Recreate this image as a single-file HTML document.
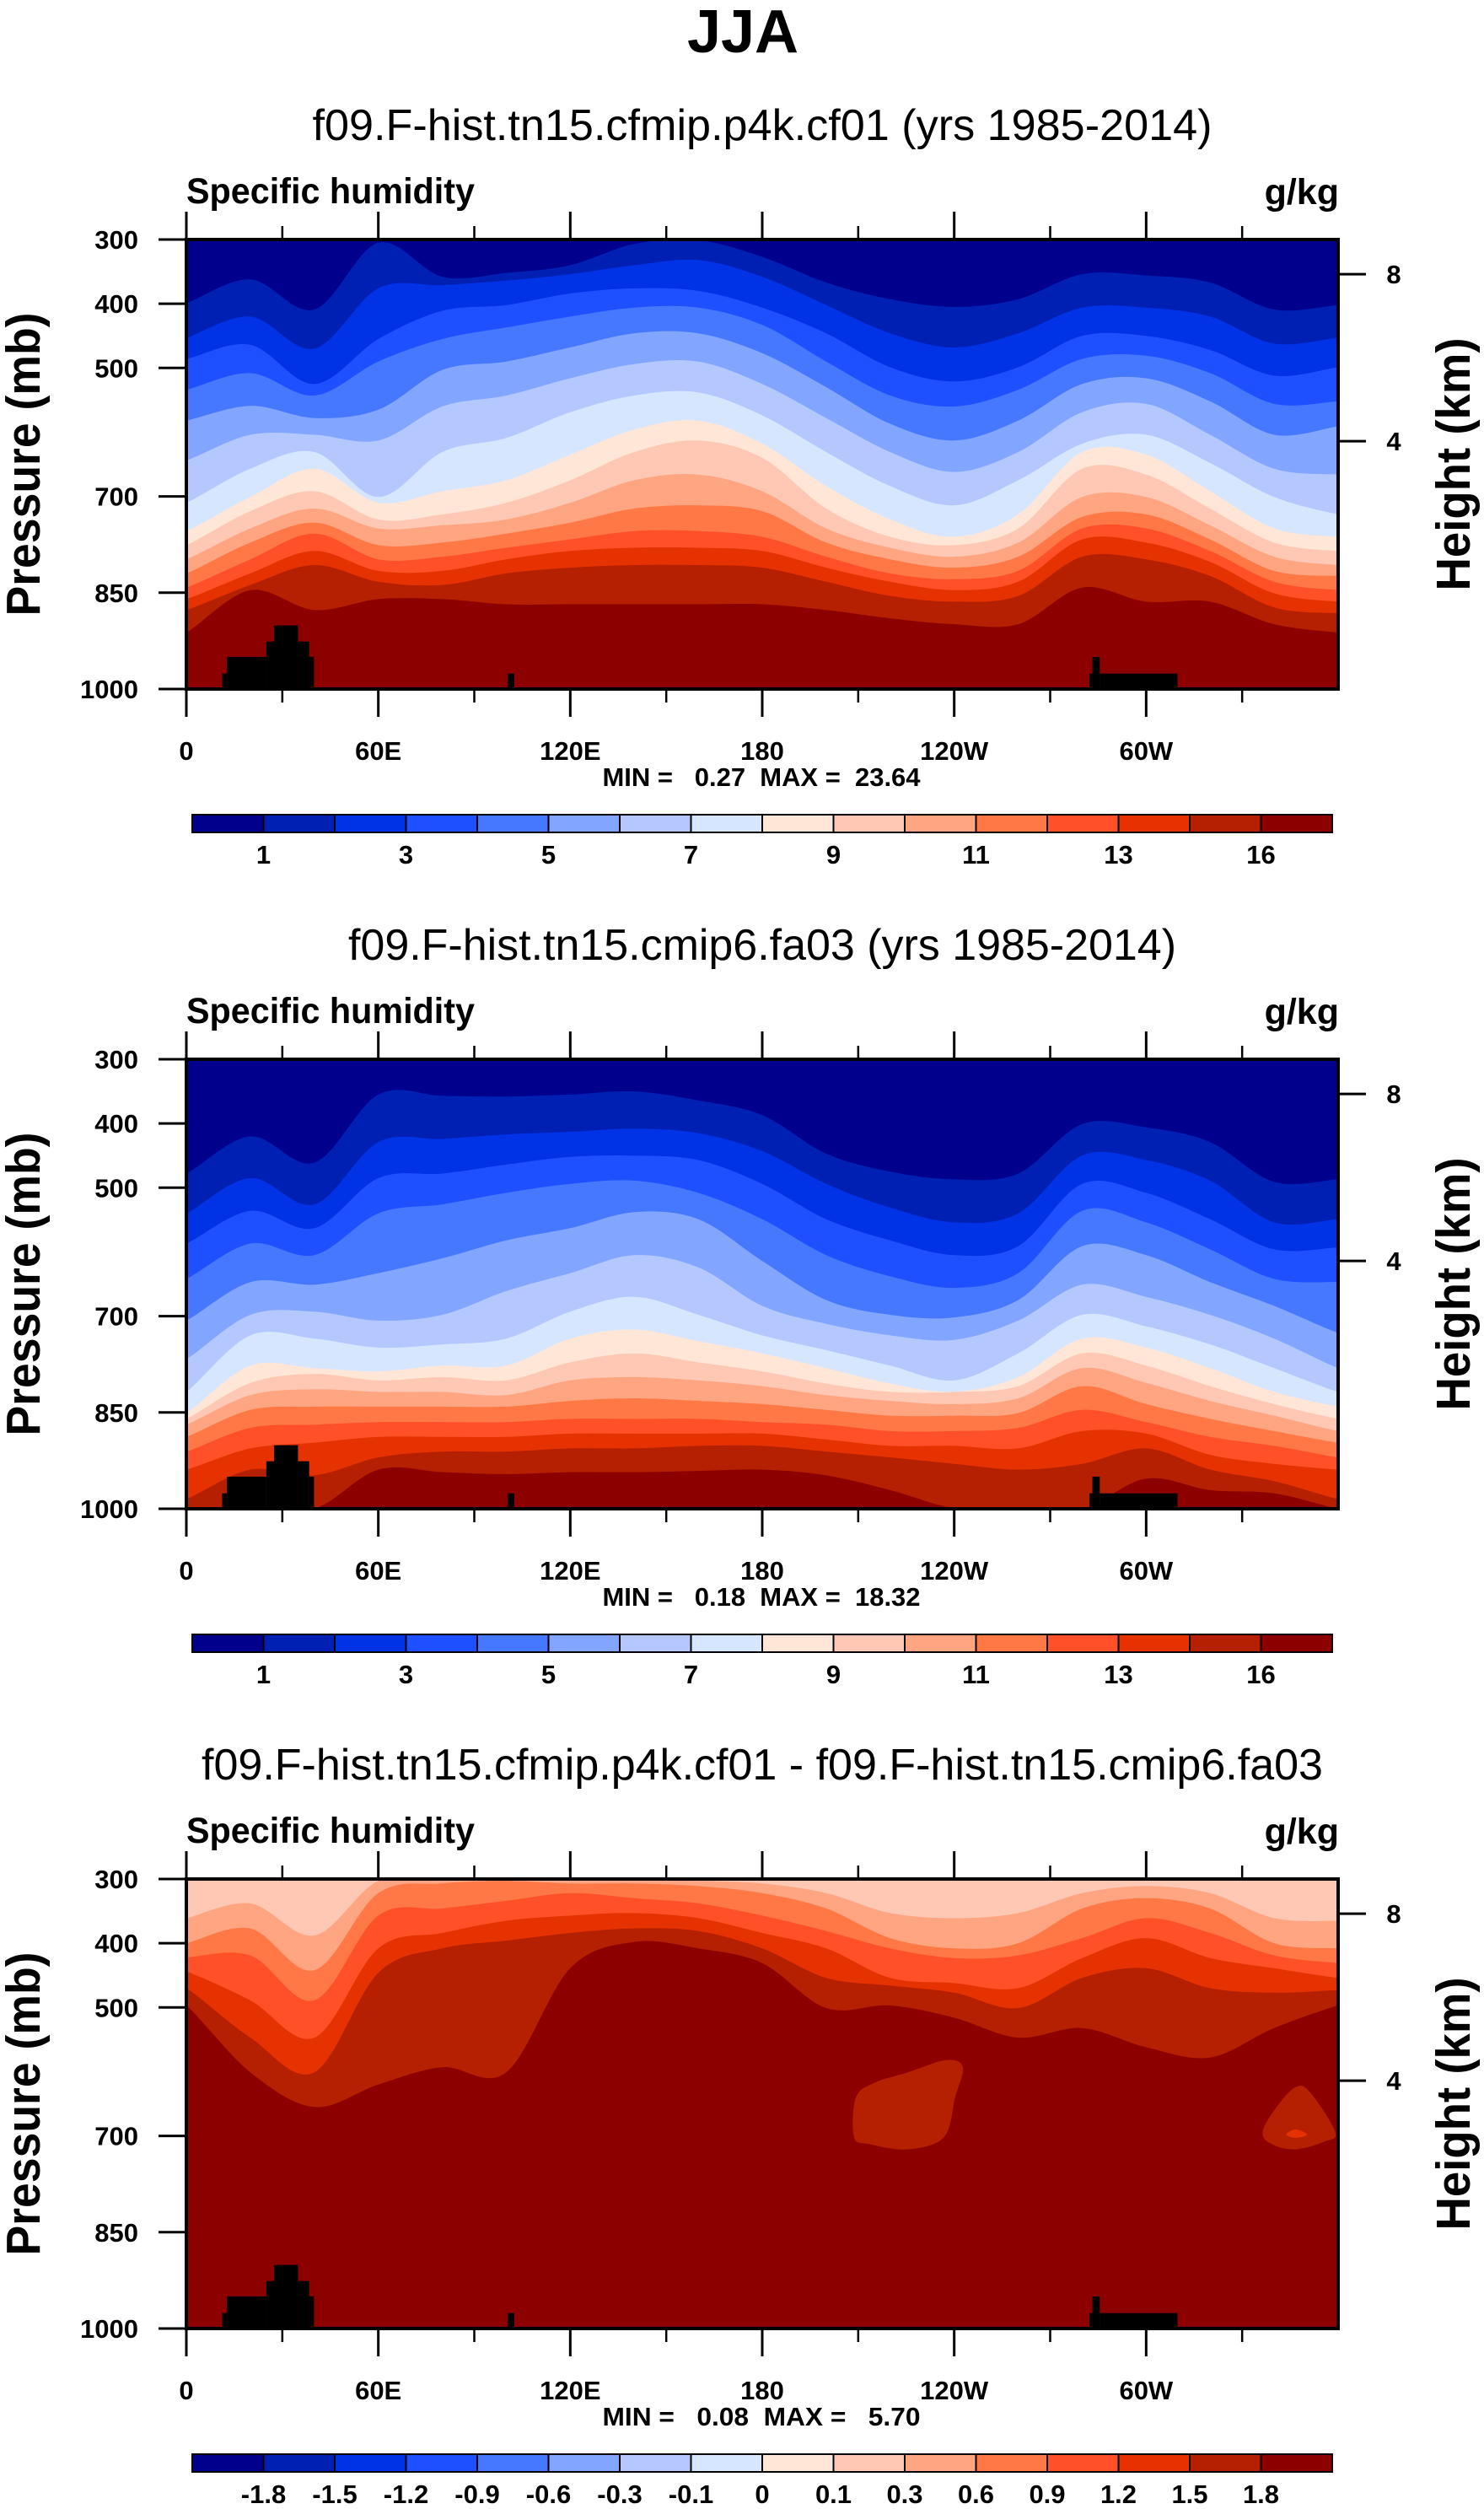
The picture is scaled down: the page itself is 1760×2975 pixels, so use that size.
<!DOCTYPE html>
<html><head><meta charset="utf-8"><title>JJA Specific humidity</title>
<style>
html,body{margin:0;padding:0;background:#fff;}
svg{display:block;font-family:"Liberation Sans",Arial,sans-serif;}
text{fill:#000;}
.pre{white-space:pre;}
</style></head>
<body>
<svg id="fig" xmlns="http://www.w3.org/2000/svg" width="1760" height="2975" viewBox="0 0 1760 2975">
<rect x="0" y="0" width="1760" height="2975" fill="#fff"/>
<text x="881" y="62" text-anchor="middle" font-size="72" font-weight="bold">JJA</text>
</svg>
<script>
// ---------- data ----------
const lons = [0,20,40,60,80,100,120,140,160,180,200,220,240,260,280,300,320,340,360];
const levels12 = [1,2,3,4,5,6,7,8,9,10,11,12,13,14,16];
const cbarLabels12 = ['1','','3','','5','','7','','9','','11','','13','','16'];
const cbarLabels3 = ['-1.8','-1.5','-1.2','-0.9','-0.6','-0.3','-0.1','0','0.1','0.3','0.6','0.9','1.2','1.5','1.8'];
const xTickLons = [0,60,120,180,240,300];
const xTickLabels = ['0','60E','120E','180','120W','60W'];
const xMinorLons = [30,90,150,210,270,330];
const pTicks = [300,400,500,700,850,1000];
const heightKm = [8,4];
const heightP = [354,614];
const palette = ['#00008c','#0020b4','#0032e6','#1e50ff','#4678ff','#82a5ff','#b4c8ff','#d7e6ff','#ffe6d7','#ffc8b4','#ffa582','#ff7846','#ff5028','#e63200','#b42000','#8c0000'];

// Panel 1: pressure (mb) where q crosses each contour level, at each lon
const p1Bounds = [
[399,362,409,305,358,352,340,307,301,327,367,393,405,393,354,356,367,409,402],
[453,420,470,376,371,364,354,340,332,358,402,446,468,446,406,406,420,462,453],
[486,464,525,455,411,402,384,376,380,406,446,499,521,499,450,450,472,512,499],
[534,508,543,490,455,437,420,406,406,433,490,543,560,534,486,481,508,556,552],
[582,559,578,565,503,490,468,446,446,477,530,587,613,582,525,516,552,604,591],
[644,604,604,613,560,543,516,494,490,525,578,631,662,631,569,556,604,657,666],
[710,657,631,701,631,609,569,543,538,574,631,684,714,675,618,604,648,701,728],
[754,701,657,710,692,675,635,596,582,618,684,736,763,728,631,635,692,750,763],
[776,723,692,736,728,710,675,631,613,640,719,763,776,750,657,666,719,772,785],
[798,750,719,750,745,736,710,675,666,692,750,780,794,772,701,701,745,794,807],
[820,772,741,776,772,758,741,719,714,723,772,798,811,794,732,728,767,816,824],
[842,798,758,798,794,780,767,754,754,763,794,820,829,816,750,750,785,833,846],
[860,820,785,816,816,798,785,780,780,785,811,833,846,833,767,772,802,851,864],
[877,838,807,833,838,820,811,807,807,811,833,855,864,855,794,798,824,873,882],
[912,846,877,860,860,868,868,868,868,868,877,890,899,899,842,864,864,899,912]
];
// Panel 2
const p2Bounds = [
[478,420,461,355,357,358,355,350,364,387,447,475,487,478,401,406,429,491,487],
[540,485,526,429,424,417,413,408,415,443,494,531,554,540,450,457,489,554,549],
[587,536,563,485,478,464,452,450,457,494,549,582,605,591,494,508,549,596,593],
[642,587,605,540,526,508,494,489,508,549,605,638,656,633,536,554,596,642,647],
[707,647,651,633,610,582,563,538,549,614,675,698,702,675,591,605,647,684,726],
[767,698,693,707,698,661,633,605,624,684,712,730,737,707,651,670,698,735,781],
[818,730,735,749,744,735,693,670,698,730,753,777,800,758,698,716,744,781,818],
[851,777,781,786,777,777,735,721,739,758,781,805,818,795,735,749,781,818,841],
[860,804,790,800,795,800,772,758,772,786,805,818,818,809,758,777,809,837,860],
[869,823,814,818,818,823,800,795,800,809,823,832,837,828,781,804,832,855,879],
[888,846,841,841,841,841,832,828,832,837,846,855,855,851,809,837,860,879,897],
[911,874,869,865,865,865,860,860,860,865,869,879,879,874,846,865,888,902,920],
[939,906,897,888,888,888,883,883,883,883,892,902,902,906,879,883,916,930,939],
[985,939,948,920,911,911,906,906,902,902,911,920,930,939,930,906,939,957,985],
[1001,999,1001,939,943,946,943,943,941,939,948,971,999,1001,1001,953,971,976,1001]
];
// Panel 3 (difference): base colour index 9, boundaries fill indices 10..15
const p3Bounds = [
[361,338,388,303,303,303,303,303,303,307,322,353,361,353,322,311,322,361,365],
[400,377,442,322,307,303,307,307,311,322,346,392,408,400,346,330,346,400,408],
[422,419,489,357,346,334,322,330,338,357,381,408,423,419,392,361,384,419,431],
[444,489,547,408,384,365,357,353,361,384,408,454,462,470,423,392,423,439,454],
[470,547,601,446,408,396,384,377,381,408,454,466,477,501,454,439,470,477,473],
[497,601,655,620,593,601,439,398,408,431,501,497,516,547,532,562,578,532,497]
];
const blobALon = [208.7,209.3,215.2,225.5,237.4,242.7,240.3,236.8,225.5,213.7];
const blobAP   = [702,640,617,601,582,593,640,702,721,713];
const blobBLon = [336.4,340.8,346.7,351.2,359.1,355.6,346.7,339.3];
const blobBP   = [694,655,624,632,694,709,721,713];
const blobCLon = [343.8,346.7,350.3,346.7];
const blobCP   = [698,690,698,703];
// Topography (surface pressure steps)
const topoLon0 = [11.2,12.7,25.0,27.4,34.9,38.4,100.5,282.3,283.2,285.5];
const topoLon1 = [12.7,25.0,27.4,34.9,38.4,39.9,102.5,283.2,285.5,309.8];
const topoP    = [976,950,926,901,926,950,976,976,950,976];

// ---------- layout ----------
const NS='http://www.w3.org/2000/svg';
const svg=document.getElementById('fig');
const X0=221, X1=1587, PH=533;
function el(tag,attrs,parent){const e=document.createElementNS(NS,tag);for(const k in attrs)e.setAttribute(k,attrs[k]);(parent||svg).appendChild(e);return e;}
function txt(s,attrs,parent){const e=el('text',attrs,parent);e.textContent=s;return e;}

function smoothPath(pts,closed){
  const n=pts.length;let d='M'+pts[0][0].toFixed(1)+','+pts[0][1].toFixed(1);
  const get=i=>closed?pts[(i+n)%n]:pts[Math.max(0,Math.min(n-1,i))];
  const segs=closed?n:n-1;
  for(let i=0;i<segs;i++){
    const p0=get(i-1),p1=get(i),p2=get(i+1),p3=get(i+2);
    const c1=[p1[0]+(p2[0]-p0[0])/6,p1[1]+(p2[1]-p0[1])/6];
    const c2=[p2[0]-(p3[0]-p1[0])/6,p2[1]-(p3[1]-p1[1])/6];
    d+='C'+c1[0].toFixed(1)+','+c1[1].toFixed(1)+' '+c2[0].toFixed(1)+','+c2[1].toFixed(1)+' '+p2[0].toFixed(1)+','+p2[1].toFixed(1);
  }
  return d+(closed?'Z':'');
}

function drawPanel(idx,top,cfg){
  const xs=l=>X0+(X1-X0)*l/360;
  const ys=p=>top+PH*(Math.min(1000,Math.max(300,p))-300)/700;
  const g=el('g',{});
  
  
  const cid='clip'+idx;
  const cp=el('clipPath',{id:cid},g);
  el('rect',{x:X0,y:top,width:X1-X0,height:PH},cp);
  const plot=el('g',{'clip-path':'url(#'+cid+')'},g);
  
  
  const base=el('rect',{x:X0,y:top,width:X1-X0,height:PH,fill:palette[cfg.baseIdx]},plot);
  
  
  cfg.bounds.forEach((arr,k)=>{
    const pts=lons.map((l,i)=>[xs(l),ys(arr[i])]);
    pts.unshift([xs(0)-20,ys(arr[0])]);pts.push([xs(360)+20,ys(arr[arr.length-1])]);
    let d=smoothPath(pts,false)+'L'+(X1+20)+','+(top+PH+5)+'L'+(X0-20)+','+(top+PH+5)+'Z';
    const path=el('path',{d:d,fill:palette[cfg.baseIdx+1+k]},plot);
    
    
  });
  (cfg.blobs||[]).forEach((b,j)=>{
    const pts=b.lon.map((l,i)=>[xs(l),ys(b.p[i])]);
    const path=el('path',{d:smoothPath(pts,true),fill:b.color},plot);
    
    
  });
  topoLon0.forEach((l0,i)=>{
    const r=el('rect',{x:xs(l0),y:ys(topoP[i]),width:xs(topoLon1[i])-xs(l0),height:top+PH-ys(topoP[i]),fill:'#000'},plot);
    
    
  });
  const frame=el('rect',{x:X0,y:top,width:X1-X0,height:PH,fill:'none',stroke:'#000','stroke-width':4},g);
  
  
  xTickLons.forEach((l,i)=>{
    const x=xs(l);
    el('line',{x1:x,y1:top-33,x2:x,y2:top,stroke:'#000','stroke-width':3},g);
    el('line',{x1:x,y1:top+PH,x2:x,y2:top+PH+33,stroke:'#000','stroke-width':3},g);
    const t=txt(xTickLabels[i],{x:x,y:top+617,'text-anchor':'middle','font-size':31,'font-weight':'bold'},g);
    
    
  });
  xMinorLons.forEach(l=>{
    const x=xs(l);
    el('line',{x1:x,y1:top-16,x2:x,y2:top,stroke:'#000','stroke-width':2.5},g);
    el('line',{x1:x,y1:top+PH,x2:x,y2:top+PH+16,stroke:'#000','stroke-width':2.5},g);
  });
  pTicks.forEach(p=>{
    const y=ys(p);
    el('line',{x1:X0-33,y1:y,x2:X0,y2:y,stroke:'#000','stroke-width':3},g);
    const t=txt(String(p),{x:164,y:y+11,'text-anchor':'end','font-size':31,'font-weight':'bold'},g);
    
    
  });
  heightKm.forEach((h,i)=>{
    const y=ys(heightP[i]);
    el('line',{x1:X1,y1:y,x2:X1+33,y2:y,stroke:'#000','stroke-width':3},g);
    const t=txt(String(h),{x:1653,y:y+11,'text-anchor':'middle','font-size':31,'font-weight':'bold'},g);
    
    
  });
  const cy=top+PH/2;
  const yl=txt('Pressure (mb)',{x:0,y:0,transform:'translate(47,'+cy+') rotate(-90)','text-anchor':'middle','font-size':57,'font-weight':'bold',textLength:360,lengthAdjust:'spacingAndGlyphs'},g);
  
  
  const hl=txt('Height (km)',{x:0,y:0,transform:'translate(1743,'+cy+') rotate(-90)','text-anchor':'middle','font-size':57,'font-weight':'bold',textLength:300,lengthAdjust:'spacingAndGlyphs'},g);
  
  
  const st=txt(cfg.title,{x:904,y:top-118,'text-anchor':'middle','font-size':52,textLength:cfg.titleLen,lengthAdjust:'spacingAndGlyphs'},g);
  
  
  const vn=txt('Specific humidity',{x:221,y:top-43,'font-size':43,'font-weight':'bold',textLength:342,lengthAdjust:'spacingAndGlyphs'},g);
  
  
  const un=txt('g/kg',{x:1588,y:top-42,'text-anchor':'end','font-size':43,'font-weight':'bold'},g);
  
  
  const mm=txt(cfg.minmax,{x:903,y:top+648,'text-anchor':'middle','font-size':31,'font-weight':'bold','class':'pre',textLength:377,lengthAdjust:'spacingAndGlyphs'},g);
  
  
  const cb=el('g',{},g);
  
  
  const CB0=228,CB1=1580,cw=(CB1-CB0)/16,cbY=top+682;
  palette.forEach((c,i)=>{
    const r=el('rect',{x:CB0+i*cw,y:cbY,width:cw,height:21,fill:c,stroke:'#000','stroke-width':2},cb);
    
    
  });
  cfg.cbLabels.forEach((s,i)=>{
    if(!s)return;
    const t=txt(s,{x:CB0+(i+1)*cw,y:top+740,'text-anchor':'middle','font-size':31,'font-weight':'bold'},cb);
    
    
  });
}

drawPanel(0,284,{bounds:p1Bounds,baseIdx:0,title:'f09.F-hist.tn15.cfmip.p4k.cf01 (yrs 1985-2014)',titleLen:1067,minmax:'MIN =   0.27  MAX =  23.64',cbLabels:cbarLabels12});
drawPanel(1,1256,{bounds:p2Bounds,baseIdx:0,title:'f09.F-hist.tn15.cmip6.fa03 (yrs 1985-2014)',titleLen:982,minmax:'MIN =   0.18  MAX =  18.32',cbLabels:cbarLabels12});
drawPanel(2,2228,{bounds:p3Bounds,baseIdx:9,title:'f09.F-hist.tn15.cfmip.p4k.cf01 - f09.F-hist.tn15.cmip6.fa03',titleLen:1330,minmax:'MIN =   0.08  MAX =   5.70',cbLabels:cbarLabels3,
  blobs:[{lon:blobALon,p:blobAP,color:'#b42000'},{lon:blobBLon,p:blobBP,color:'#b42000'},{lon:blobCLon,p:blobCP,color:'#e63200'}]});
</script>
</body></html>
